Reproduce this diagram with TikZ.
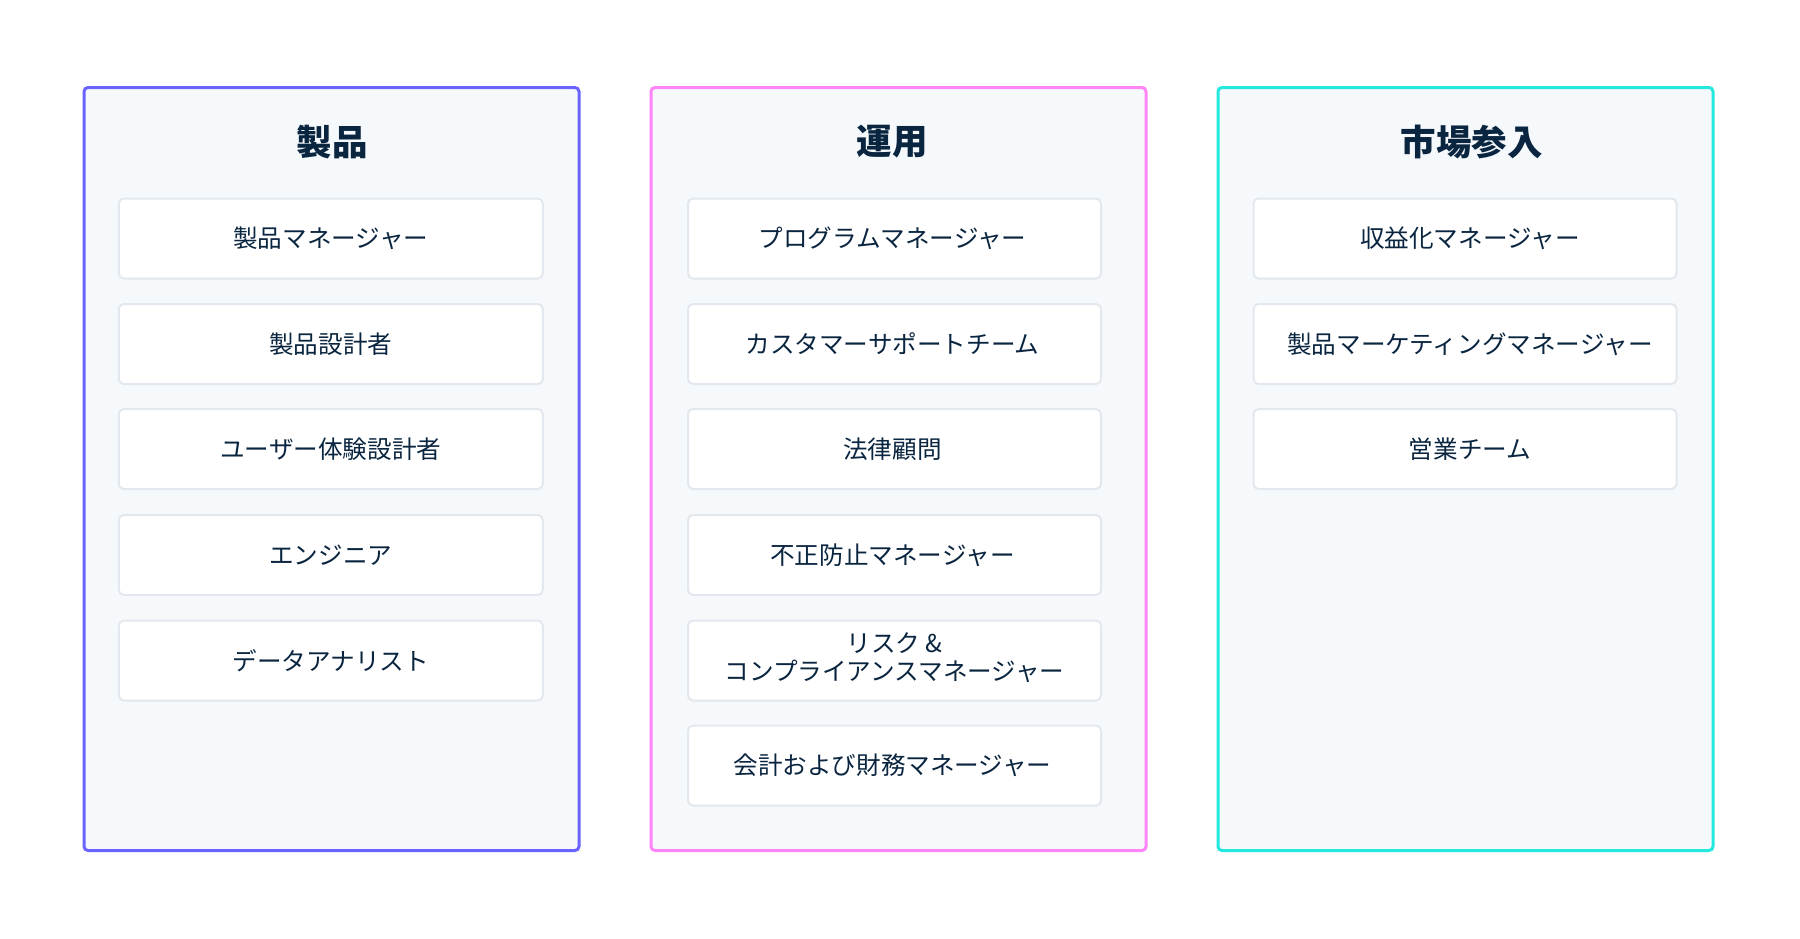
\documentclass[tikz,border=0pt]{standalone}
\usepackage{fontspec}
\setmainfont{Noto Sans CJK JP}
\definecolor{navy}{HTML}{0A2540}
\definecolor{panelfill}{HTML}{F6F9FC}
\definecolor{itemborder}{HTML}{E3E8EE}
\definecolor{cpurple}{HTML}{6B63FF}
\definecolor{cpink}{HTML}{FF85F8}
\definecolor{ccyan}{HTML}{22E8DE}
\tikzset{
  panel/.style={draw=#1, line width=3pt, fill=panelfill, rounded corners=4pt,
    minimum width=495pt, minimum height=763pt, inner sep=0pt, outer sep=0pt, anchor=north west},
  paneltitle/.style={text=navy, font=\fontsize{35.5}{42}\selectfont\bfseries, inner sep=0pt},
  itembox/.style={draw=itemborder, line width=2pt, fill=white, rounded corners=5pt,
    minimum width=#1, minimum height=80pt, inner sep=0pt,
    text=navy, align=center, font=\fontsize{24.6}{27.5}\selectfont},
  nudge/.style={execute at begin node={\hspace*{#1}}},
}
\begin{document}
\begin{tikzpicture}[x=1pt,y=-1pt]
\useasboundingbox[fill=white] (0,0) rectangle (1800,938);
% panels
\node[panel=cpurple] (p1) at (84,87.5) {};
\node[panel=cpink]   (p2) at (651,87.5) {};
\node[panel=ccyan]   (p3) at (1218,87.5) {};
% titles
\node[paneltitle] (t1) at (332,142) {製品};
\node[paneltitle] (t2) at (892,142) {運用};
\node[paneltitle] (t3) at (1471.5,142) {市場参入};
% panel 1 items
\node[itembox=424pt] (a1) at (330.8,238.5) {製品マネージャー};
\node[itembox=424pt] (a2) at (330.8,344) {製品設計者};
\node[itembox=424pt] (a3) at (330.8,449) {ユーザー体験設計者};
\node[itembox=424pt] (a4) at (330.8,555) {エンジニア};
\node[itembox=424pt] (a5) at (330.8,660.5) {データアナリスト};
% panel 2 items
\node[itembox=413pt, nudge=-4pt] (b1) at (894.5,238.5) {プログラムマネージャー};
\node[itembox=413pt, nudge=-4pt] (b2) at (894.5,344) {カスタマーサポートチーム};
\node[itembox=413pt, nudge=-4pt] (b3) at (894.5,449) {法律顧問};
\node[itembox=413pt, nudge=-4pt] (b4) at (894.5,555) {不正防止マネージャー};
\node[itembox=413pt] (b5) at (894.5,660.5) {リスク \&\\コンプライアンスマネージャー\rule[-8pt]{0pt}{0pt}};
\node[itembox=413pt, nudge=-4pt] (b6) at (894.5,765.5) {会計および財務マネージャー};
% panel 3 items
\node[itembox=423pt, nudge=10pt] (c1) at (1465,238.5) {収益化マネージャー};
\node[itembox=423pt, nudge=10pt] (c2) at (1465,344) {製品マーケティングマネージャー};
\node[itembox=423pt, nudge=10pt] (c3) at (1465,449) {営業チーム};
\end{tikzpicture}
\end{document}
